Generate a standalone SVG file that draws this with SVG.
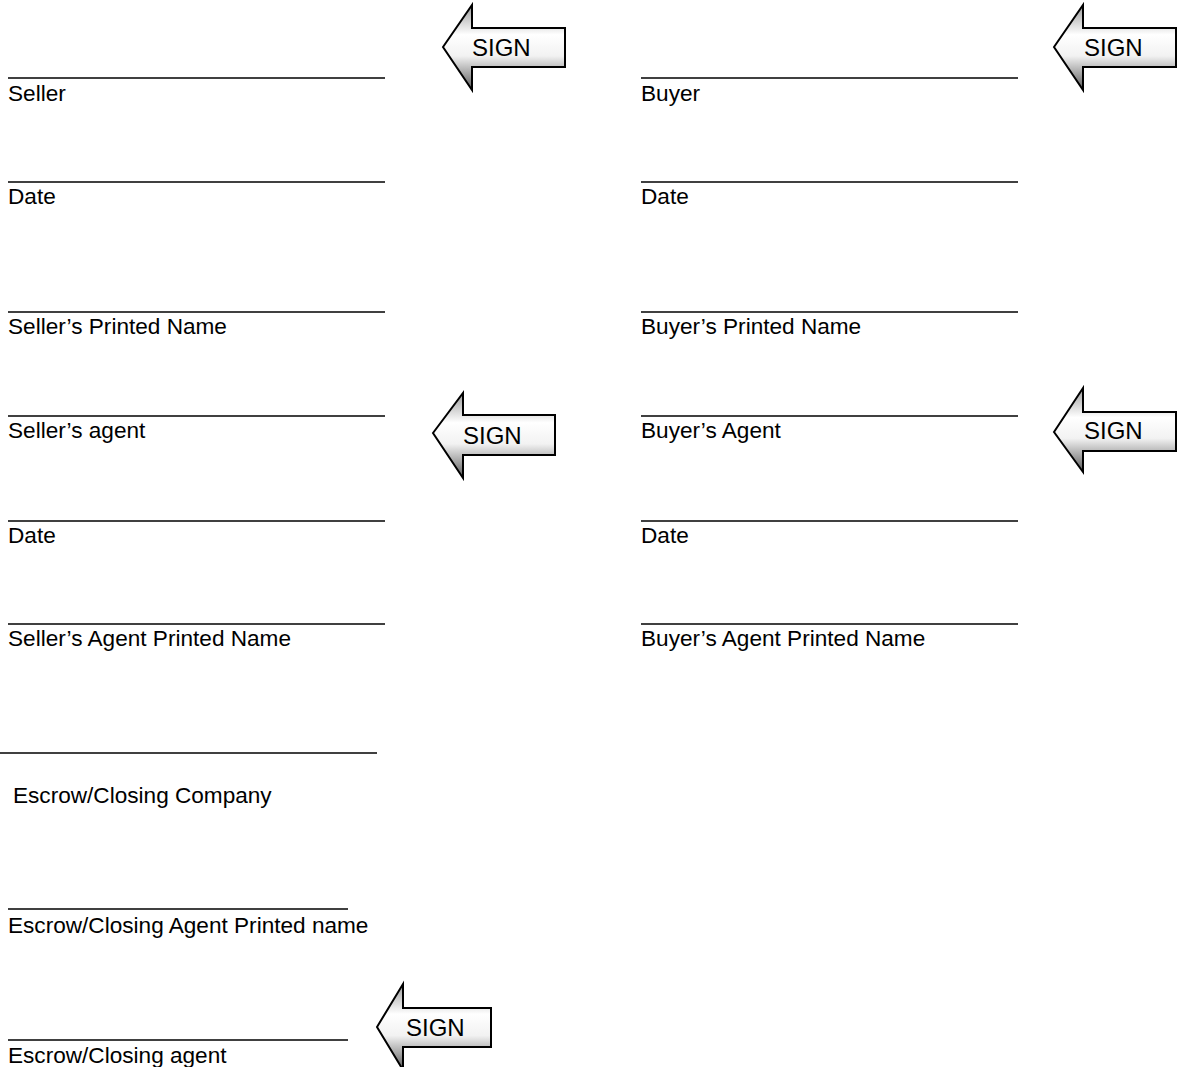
<svg xmlns="http://www.w3.org/2000/svg" width="1180" height="1067" viewBox="0 0 1180 1067">
<style>
.t{font-family:"Liberation Sans",Arial,sans-serif;font-size:22.6px;fill:#000}
.s{font-family:"Liberation Sans",Arial,sans-serif;font-size:24px;fill:#000}
.ln{stroke:#000;stroke-width:1.4;fill:none}
.ar{fill:url(#g);stroke:#000;stroke-width:2;stroke-linejoin:miter}
</style>
<defs>
<linearGradient id="g" x1="0" y1="0" x2="0" y2="1">
<stop offset="0" stop-color="#9a9a9a"/>
<stop offset="0.35" stop-color="#ffffff"/>
<stop offset="0.6" stop-color="#f2f2f2"/>
<stop offset="1" stop-color="#5a5a5a"/>
</linearGradient>
</defs>
<rect width="1180" height="1067" fill="#fff"/>
<g id="seller"><line class="ln" x1="8" y1="78" x2="385" y2="78"/><text class="t" x="8" y="101">Seller</text></g>
<g id="seller-date"><line class="ln" x1="8" y1="182" x2="385" y2="182"/><text class="t" x="8" y="204">Date</text></g>
<g id="seller-printed"><line class="ln" x1="8" y1="312" x2="385" y2="312"/><text class="t" x="8" y="334">Seller’s Printed Name</text></g>
<g id="seller-agent"><line class="ln" x1="8" y1="416" x2="385" y2="416"/><text class="t" x="8" y="438">Seller’s agent</text></g>
<g id="seller-agent-date"><line class="ln" x1="8" y1="521" x2="385" y2="521"/><text class="t" x="8" y="543">Date</text></g>
<g id="seller-agent-printed"><line class="ln" x1="8" y1="624" x2="385" y2="624"/><text class="t" x="8" y="646">Seller’s Agent Printed Name</text></g>
<g id="buyer"><line class="ln" x1="641" y1="78" x2="1018" y2="78"/><text class="t" x="641" y="101">Buyer</text></g>
<g id="buyer-date"><line class="ln" x1="641" y1="182" x2="1018" y2="182"/><text class="t" x="641" y="204">Date</text></g>
<g id="buyer-printed"><line class="ln" x1="641" y1="312" x2="1018" y2="312"/><text class="t" x="641" y="334">Buyer’s Printed Name</text></g>
<g id="buyer-agent"><line class="ln" x1="641" y1="416" x2="1018" y2="416"/><text class="t" x="641" y="438">Buyer’s Agent</text></g>
<g id="buyer-agent-date"><line class="ln" x1="641" y1="521" x2="1018" y2="521"/><text class="t" x="641" y="543">Date</text></g>
<g id="buyer-agent-printed"><line class="ln" x1="641" y1="624" x2="1018" y2="624"/><text class="t" x="641" y="646">Buyer’s Agent Printed Name</text></g>
<g id="escrow-company"><line class="ln" x1="0" y1="753" x2="377" y2="753"/><text class="t" x="13" y="803">Escrow/Closing Company</text></g>
<g id="escrow-agent-printed"><line class="ln" x1="8" y1="909" x2="348" y2="909"/><text class="t" x="8" y="933">Escrow/Closing Agent Printed name</text></g>
<g id="escrow-agent"><line class="ln" x1="8" y1="1040" x2="348" y2="1040"/><text class="t" x="8" y="1063">Escrow/Closing agent</text></g>
<g id="sign-seller"><polygon class="ar" points="443,47 472,5 472,28 565,28 565,67 472,67 472,90"/><text class="s" x="472" y="56">SIGN</text></g>
<g id="sign-seller-agent"><polygon class="ar" points="433,433 463,393 463,415 555,415 555,455 463,455 463,478"/><text class="s" x="463" y="444">SIGN</text></g>
<g id="sign-buyer"><polygon class="ar" points="1054,47 1083,5 1083,28 1176,28 1176,67 1083,67 1083,90"/><text class="s" x="1084" y="56">SIGN</text></g>
<g id="sign-buyer-agent"><polygon class="ar" points="1054,432 1083,388 1083,412 1176,412 1176,451 1083,451 1083,472"/><text class="s" x="1084" y="439">SIGN</text></g>
<g id="sign-escrow"><polygon class="ar" points="377,1027 403,984 403,1008 491,1008 491,1047 403,1047 403,1070"/><text class="s" x="406" y="1036">SIGN</text></g>
<g id="connectors"/>
</svg>
